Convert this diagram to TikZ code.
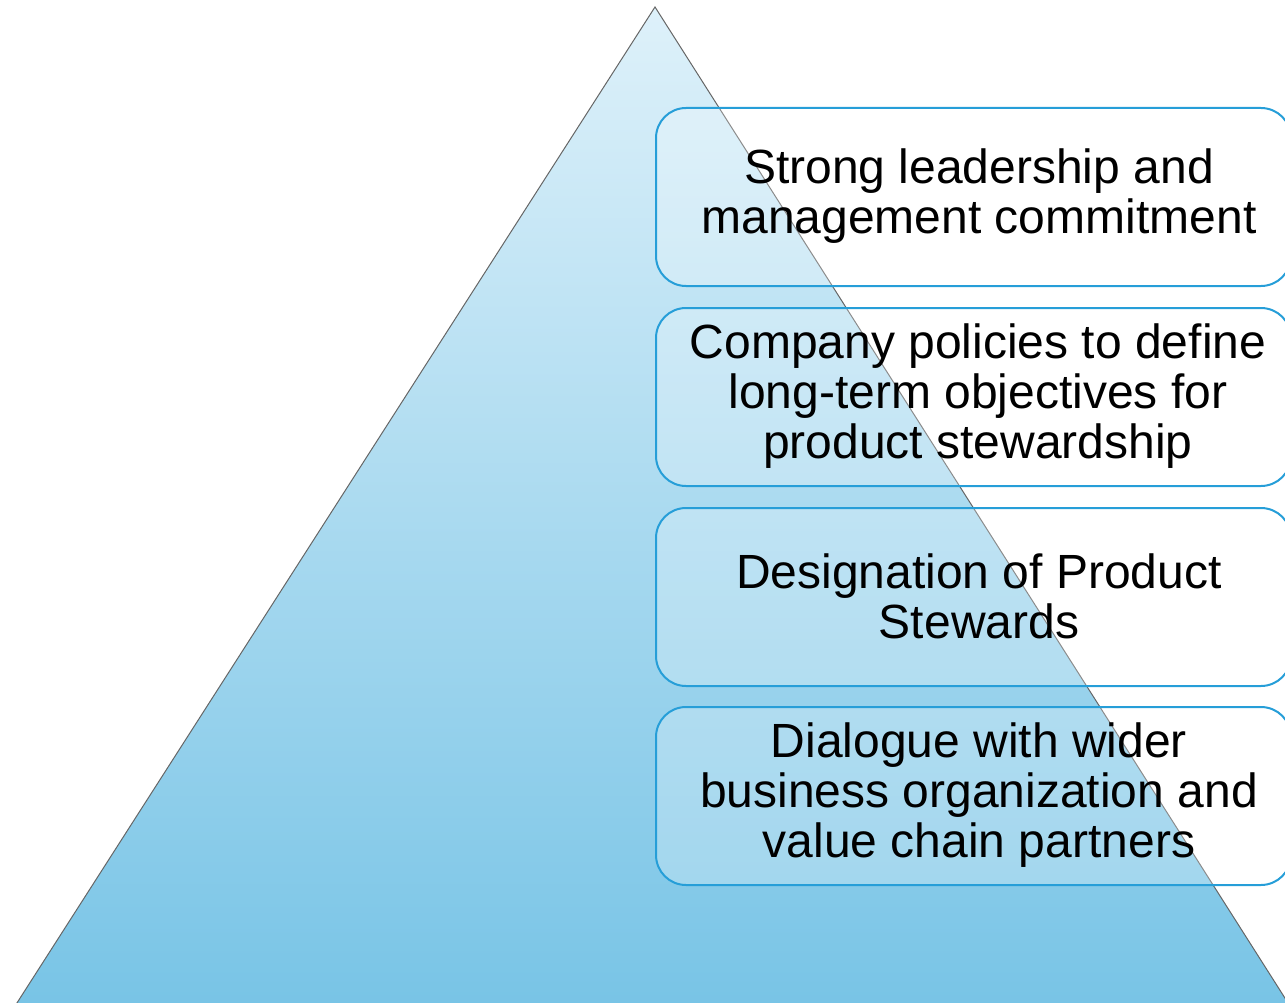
\documentclass[tikz,border=0pt]{standalone}
\usepackage{fontspec}
\setmainfont{Liberation Sans}
\begin{document}
\begin{tikzpicture}[x=1pt,y=-1pt,
  tribox/.style={draw=black!60,line width=1pt,top color=tritop,bottom color=tribot},
  stepbox/.style={draw=boxblue,line width=2pt,rounded corners=30pt,fill=white,fill opacity=0.25,
     text opacity=1,minimum width=635pt,minimum height=178pt,anchor=north west,inner sep=0pt},
  lbl/.style={font=\fontsize{48}{50}\selectfont,align=center,text=black}]
\definecolor{tritop}{RGB}{222,241,250}
\definecolor{tribot}{RGB}{120,196,230}
\definecolor{boxblue}{RGB}{38,158,216}
\useasboundingbox (0,0) rectangle (1285,1003);
\clip (0,0) rectangle (1285,1003);
\coordinate (apex) at (655,7);
\coordinate (bl) at (15,1006);
\coordinate (br) at (1290,1006);
\path[tribox] (apex) -- (br) -- (bl) -- cycle;
\node[stepbox] (b1) at (655,107) {};
\node[stepbox] (b2) at (655,307) {};
\node[stepbox] (b3) at (655,507) {};
\node[stepbox] (b4) at (655,706) {};
\node[lbl] (t1) at (979,196) {Strong leadership and\\management commitment};
\node[lbl] (t2) at (978,396) {Company policies to define\\long-term objectives for\\product stewardship};
\node[lbl] (t3) at (979,596) {Designation of Product\\Stewards};
\node[lbl] (t4) at (979,795) {Dialogue with wider\\business organization and\\value chain partners};
\end{tikzpicture}
\end{document}
